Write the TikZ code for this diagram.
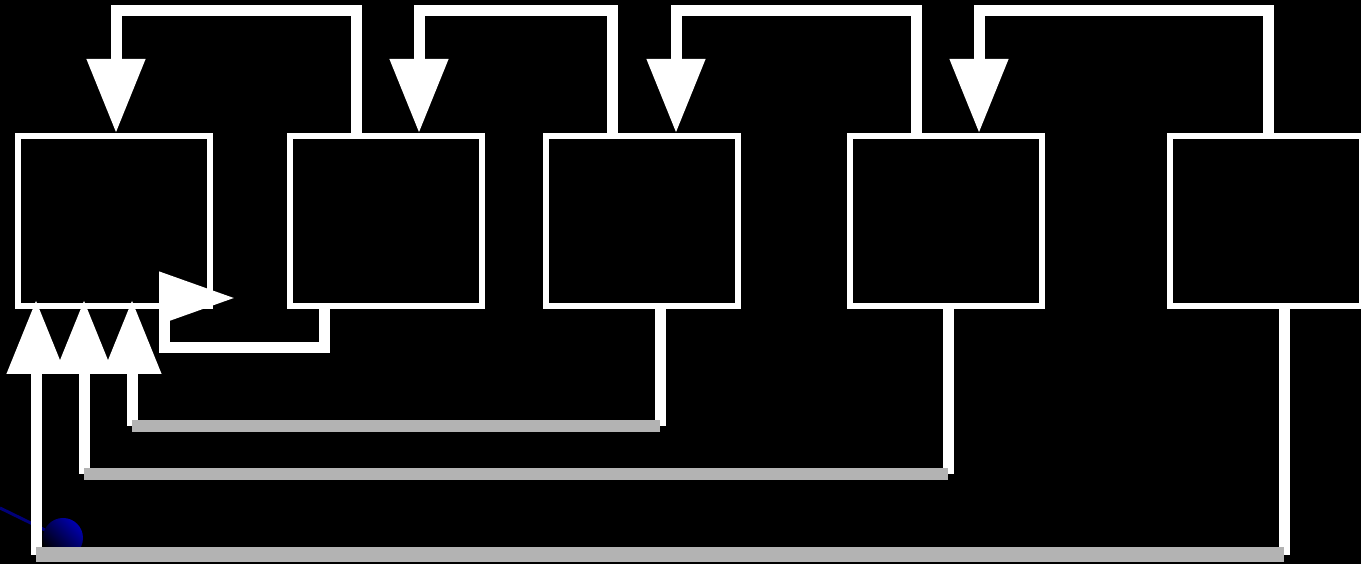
\documentclass[tikz,border=0pt]{standalone}
\usetikzlibrary{arrows.meta}
\definecolor{busgray}{RGB}{179,179,179}
\definecolor{navyline}{RGB}{0,0,120}
\definecolor{orbblue}{RGB}{0,0,175}
\begin{document}
\begin{tikzpicture}[x=1pt, y=1pt,
  box/.style={draw=white, line width=6pt, fill=black, minimum width=192pt, minimum height=170pt, inner sep=0pt},
  wire/.style={draw=white, line width=11pt},
  bus/.style={draw=busgray, line width=12pt},
  head/.style={-{Triangle[width=56pt,length=74pt]}}]
  \fill[black] (0,0) rectangle (1361,564);
  \useasboundingbox (0,0) rectangle (1361,564);

  % blue bits bottom left
  \draw[navyline, line width=3pt] (0,56) -- (45,34);
  \shade[left color=orbblue, right color=black, shading angle=-45] (63,26) circle (20pt);

  \node[box] (box1) at (114,343) {};
  \node[box] (box2) at (386,343) {};
  \node[box] (box3) at (642,343) {};
  \node[box] (box4) at (946,343) {};
  \node[box] (box5) at (1266,343) {};

  % feedback over the top
  \draw[wire, head] ([xshift=-30pt]box2.north) -- ++(0,122) -| ([xshift=2pt]box1.north);
  \draw[wire, head] ([xshift=-30pt]box3.north) -- ++(0,122) -| ([xshift=33pt]box2.north);
  \draw[wire, head] ([xshift=-30pt]box4.north) -- ++(0,122) -| ([xshift=34pt]box3.north);
  \draw[wire, head] ([xshift=2pt]box5.north) -- ++(0,122) -| ([xshift=33pt]box4.north);

  % short loop back into box1
  \draw[wire, -{Triangle[width=50pt,length=76pt]}] ([xshift=-62pt]box2.south) -- ++(0,-39) -- ++(-160,0) -- ++(0,50) -- ++(71,0);

  % long returns along the bottom
  \draw[wire] ([xshift=18pt]box3.south) -- (660,138) coordinate (b3);
  \draw[wire] ([xshift=2pt]box4.south) -- (948,90) coordinate (b4);
  \draw[wire] ([xshift=18pt]box5.south) -- (1284,9) coordinate (b5);
  \coordinate (a3) at (132,138);
  \coordinate (a4) at (84,90);
  \coordinate (a5) at (36,9);
  \draw[wire, head] (a3) -- ([xshift=18pt,yshift=9pt]box1.south);
  \draw[wire, head] (a4) -- ([xshift=-30pt,yshift=9pt]box1.south);
  \draw[wire, head] (a5) -- ([xshift=-78pt,yshift=9pt]box1.south);
  \draw[bus] (b3) -- (a3);
  \draw[bus] (b4) -- (a4);
  \draw[bus, line width=15pt] (b5) -- (a5);
\end{tikzpicture}
\end{document}
